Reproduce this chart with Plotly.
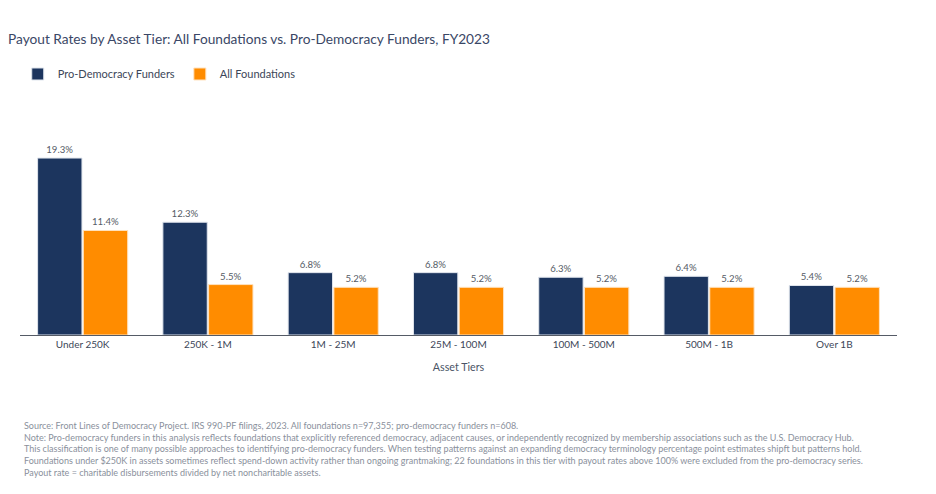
import plotly.graph_objects as go

tiers = ["Under 250K", "250K - 1M", "1M - 25M", "25M - 100M", "100M - 500M", "500M - 1B", "Over 1B"]
pro_democracy = [19.3, 12.3, 6.8, 6.8, 6.3, 6.4, 5.4]
all_foundations = [11.4, 5.5, 5.2, 5.2, 5.2, 5.2, 5.2]

footnote = (
    "Source: Front Lines of Democracy Project. IRS 990-PF filings, 2023. All foundations n=97,355; pro-democracy funders n=608.<br>"
    "Note: Pro-democracy funders in this analysis reflects foundations that explicitly referenced democracy, adjacent causes, or independently recognized by membership associations such as the U.S. Democracy Hub.<br>"
    "This classification is one of many possible approaches to identifying pro-democracy funders. When testing patterns against an expanding democracy terminology percentage point estimates shipft but patterns hold.<br>"
    "Foundations under $250K in assets sometimes reflect spend-down activity rather than ongoing grantmaking; 22 foundations in this tier with payout rates above 100% were excluded from the pro-democracy series.<br>"
    "Payout rate = charitable disbursements divided by net noncharitable assets."
)

fig = go.Figure()

fig.add_trace(go.Bar(x=tiers, y=pro_democracy, name='Pro-Democracy Funders',
                     marker=dict(color='#1c355e', line=dict(color='#dfe4ec', width=1)),
                     text=[f"{v:.1f}%" for v in pro_democracy], textposition='outside',
                     textfont=dict(size=9.6, color='#555b66'), cliponaxis=False))

fig.add_trace(go.Bar(x=tiers, y=all_foundations, name='All Foundations',
                     marker=dict(color='#ff8c00', line=dict(color='#ffe2bf', width=1)),
                     text=[f"{v:.1f}%" for v in all_foundations], textposition='outside',
                     textfont=dict(size=9.6, color='#555b66'), cliponaxis=False))

fig.update_layout(
    width=928, height=486,
    template='plotly_white',
    font=dict(family='Lato', color='#3c4658'),
    title=dict(text='Payout Rates by Asset Tier: All Foundations vs. Pro-Democracy Funders, FY2023',
               x=0, xref='container', y=0.936, yref='container', xanchor='left', yanchor='middle',
               font=dict(size=13.7, color='#3a4766')),
    legend=dict(orientation='h', xref='container', x=0.0105, xanchor='left', y=1.214, yanchor='middle',
                font=dict(size=11, color='#3c4658'), itemwidth=30, traceorder='normal'),
    margin=dict(l=12, r=39, t=112, b=159, autoexpand=False),
    bargap=0.27, bargroupgap=0.03,
    plot_bgcolor='white', paper_bgcolor='white',
    xaxis=dict(title=dict(text='Asset Tiers', font=dict(size=10.7, color='#4a5466'), standoff=14),
               showline=True, linecolor='#555b66', linewidth=1.2, showgrid=False,
               tickfont=dict(size=10, color='#3c4658'), ticks=''),
    yaxis=dict(visible=False, range=[0, 23.45], showgrid=False),
    annotations=[dict(text=footnote, xref='paper', yref='paper', x=0.002, y=-0.386,
                      xanchor='left', yanchor='top', align='left', showarrow=False,
                      font=dict(size=9, color='#8a909c'))],
)

fig.write_html("out.html")
